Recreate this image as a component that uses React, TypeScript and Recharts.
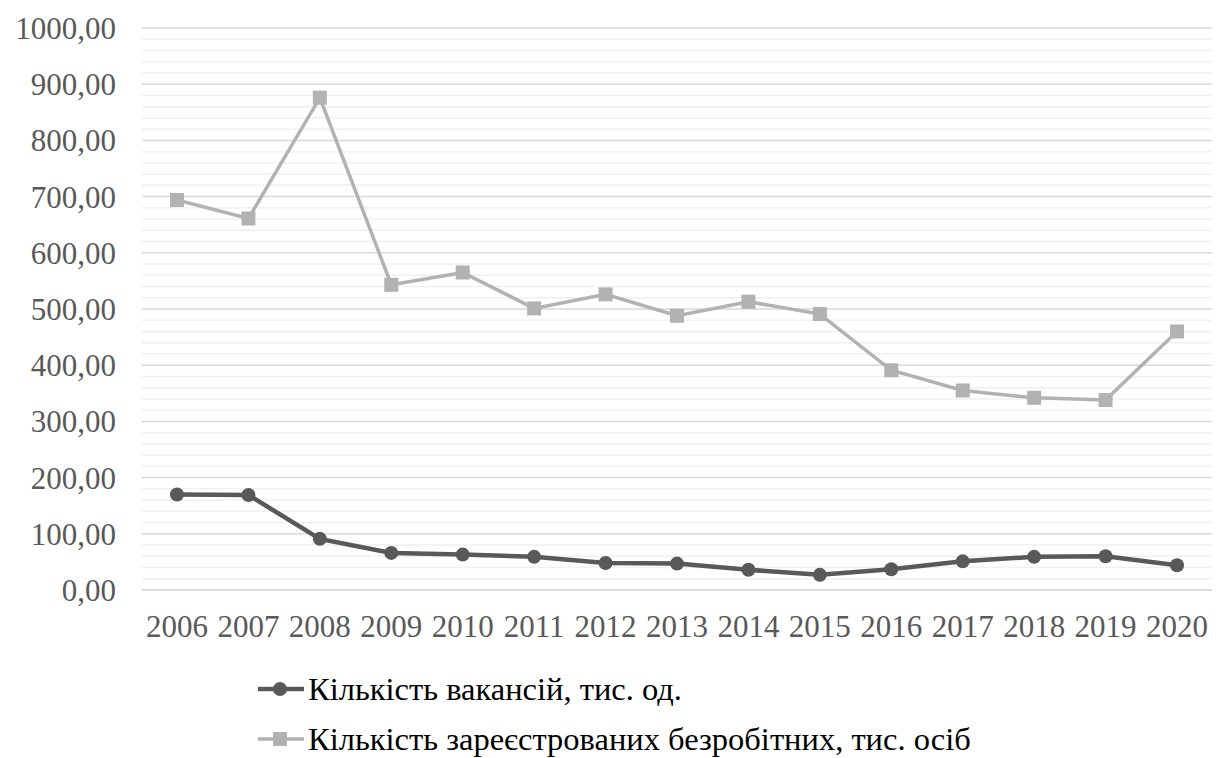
import React from 'react';
import { LineChart, Line, XAxis, YAxis, CartesianGrid, Legend, ReferenceLine } from 'recharts';

const years = ['2006', '2007', '2008', '2009', '2010', '2011', '2012', '2013', '2014', '2015', '2016', '2017', '2018', '2019', '2020'];
const vacancies = [170, 169, 91, 66, 63, 59, 48, 47, 36, 27, 37, 51, 59, 60, 44];
const unemployed = [694, 661, 876, 543, 565, 501, 526, 488, 513, 491, 391, 355, 342, 338, 460];
const yTicks = [0, 100, 200, 300, 400, 500, 600, 700, 800, 900, 1000];
// minor gridlines every 20 units
const minorTicks = Array.from({ length: 50 }, (_, i) => i * 20).filter((v) => v % 100 !== 0);

const seriesNames = ['Кількість вакансій, тис. од.', 'Кількість зареєстрованих безробітних, тис. осіб'];

const data = years.map((year, i) => ({ year, vacancies: vacancies[i], unemployed: unemployed[i] }));

const DARK = '#595959';
const LIGHT = '#b2b2b2';
const FONT = "'Liberation Serif'";

const SquareDot = (props: any) => {
  const { cx, cy } = props;
  if (cx == null || cy == null) return null;
  return <rect x={cx - 7} y={cy - 7} width={14} height={14} fill={LIGHT} />;
};

const textStyle: React.CSSProperties = { fontFamily: FONT, fontSize: 32.5, color: '#000', lineHeight: '50px', marginLeft: 3 };

const renderLegend = () => (
  <div style={{ fontFamily: FONT }}>
    <div style={{ display: 'flex', alignItems: 'center', height: 50 }}>
      <svg width={48} height={20}>
        <line x1={1} y1={10} x2={47} y2={10} stroke={DARK} strokeWidth={4.5} />
        <circle cx={23} cy={10} r={7} fill={DARK} />
      </svg>
      <span style={textStyle}>{seriesNames[0]}</span>
    </div>
    <div style={{ display: 'flex', alignItems: 'center', height: 50 }}>
      <svg width={48} height={20}>
        <line x1={1} y1={10} x2={47} y2={10} stroke={LIGHT} strokeWidth={3.5} />
        <rect x={16} y={3} width={14} height={14} fill={LIGHT} />
      </svg>
      <span style={textStyle}>{seriesNames[1]}</span>
    </div>
  </div>
);

export default function App() {
  return (
    <div style={{ width: 1204, height: 750, background: '#fff', fontFamily: FONT }}>
      <LineChart width={1204} height={750} data={data} margin={{ top: 20, right: 0, left: 0, bottom: 8 }}>
        {minorTicks.map((v) => (
          <ReferenceLine key={`m-${v}`} y={v} stroke="#f0f0f0" strokeWidth={1.5} />
        ))}
        <CartesianGrid vertical={false} stroke="#d9d9d9" strokeWidth={1.5} />
        <XAxis
          dataKey="year"
          axisLine={{ stroke: '#d9d9d9', strokeWidth: 1.5 }}
          tickLine={false}
          tickSize={0}
          tickMargin={25}
          height={60}
          interval={0}
          padding={{ left: 35, right: 35 }}
          tick={{ fill: DARK, fontSize: 31, fontFamily: 'Liberation Serif' }}
        />
        <YAxis
          domain={[0, 1000]}
          ticks={yTicks}
          interval={0}
          axisLine={false}
          tickLine={false}
          tickSize={0}
          tickMargin={26}
          width={134}
          tickFormatter={(v: number) => v.toFixed(2).replace('.', ',')}
          tick={{ fill: DARK, fontSize: 31, fontFamily: 'Liberation Serif' }}
        />
        <Legend
          content={renderLegend}
          wrapperStyle={{ position: 'absolute', left: 249, top: 656, width: 900 }}
        />
        <Line
          dataKey="vacancies"
          name={seriesNames[0]}
          stroke={DARK}
          strokeWidth={4.5}
          dot={{ r: 7, fill: DARK, stroke: DARK, strokeWidth: 0 }}
          isAnimationActive={false}
        />
        <Line
          dataKey="unemployed"
          name={seriesNames[1]}
          stroke={LIGHT}
          strokeWidth={3.5}
          dot={<SquareDot />}
          isAnimationActive={false}
        />
      </LineChart>
    </div>
  );
}
